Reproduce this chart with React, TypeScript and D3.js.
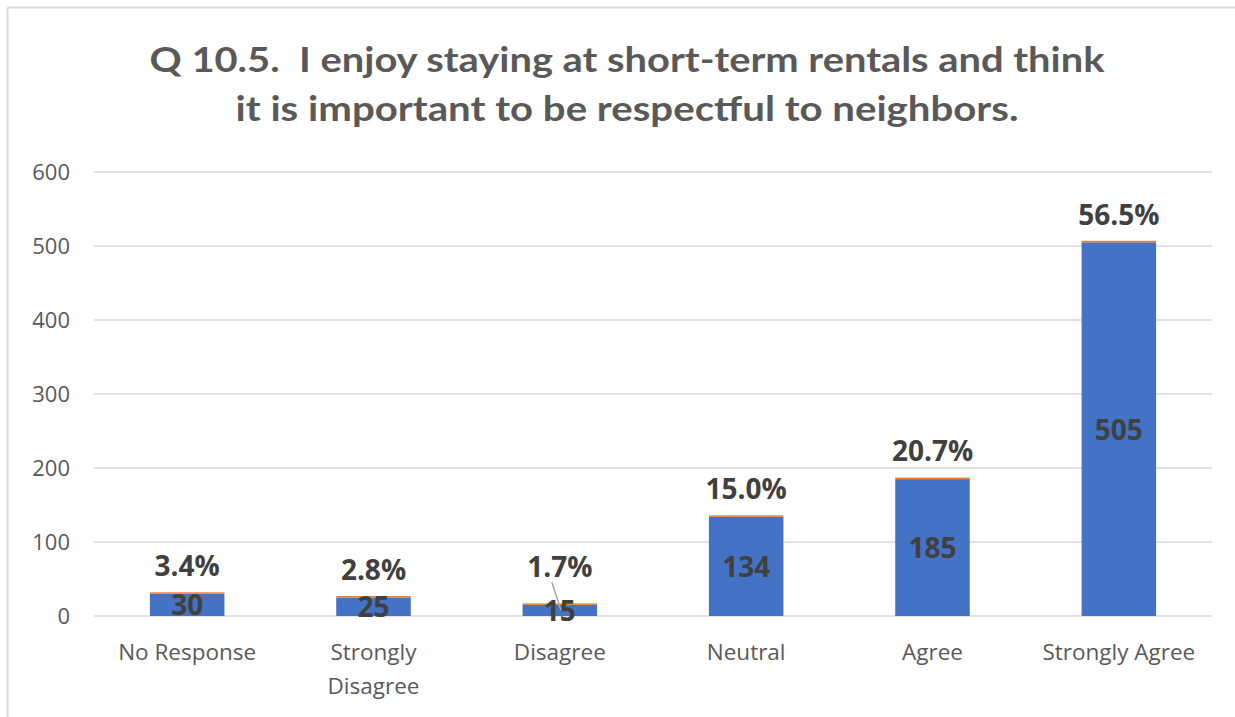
import React from "react";
import * as d3 from "d3";

const categories = ["No Response", "Strongly Disagree", "Disagree", "Neutral", "Agree", "Strongly Agree"];
const counts = [30, 25, 15, 134, 185, 505];
const percents = [3.4, 2.8, 1.7, 15.0, 20.7, 56.5];
const yTicks = [0, 100, 200, 300, 400, 500, 600];
const titleLines = [
  "Q 10.5.  I enjoy staying at short-term rentals and think",
  "it is important to be respectful to neighbors.",
];

const W = 1235;
const H = 717;
const TITLE_FONT = "Lato, 'Open Sans', 'Liberation Sans', sans-serif";
const FONT = "'Open Sans', 'Noto Sans', 'DejaVu Sans', sans-serif";

export default function App() {
  const x = d3.scaleBand<string>().domain(categories).range([94, 1212]).paddingInner(0.6).paddingOuter(0.3);
  const y = d3.scaleLinear().domain([0, 600]).range([616, 172]);

  const wrapLabel = (s: string) => {
    if (s === "Strongly Disagree") return ["Strongly", "Disagree"];
    return [s];
  };

  return (
    <svg width={W} height={H} style={{ position: "absolute", left: 0, top: 0, background: "#fff" }}>
      <rect x={0} y={0} width={W} height={H} fill="#fff" />
      {/* frame */}
      <line x1={7.5} y1={7.5} x2={W} y2={7.5} stroke="#d9d9d9" strokeWidth={2} />
      <line x1={7.5} y1={7.5} x2={7.5} y2={H} stroke="#d9d9d9" strokeWidth={2} />

      {/* title */}
      <text x={627} y={72} textAnchor="middle" fontFamily={TITLE_FONT} fontWeight={700} fontSize={35} fill="#595959"
        textLength={955} lengthAdjust="spacingAndGlyphs" style={{ whiteSpace: "pre" }}>{titleLines[0]}</text>
      <text x={627} y={121} textAnchor="middle" fontFamily={TITLE_FONT} fontWeight={700} fontSize={35} fill="#595959"
        textLength={783} lengthAdjust="spacingAndGlyphs" style={{ whiteSpace: "pre" }}>{titleLines[1]}</text>

      {/* gridlines and y ticks */}
      {yTicks.map((t) => (
        <g key={t}>
          <line x1={94} x2={1212} y1={y(t)} y2={y(t)} stroke="#d9d9d9" strokeWidth={1.5} />
          <text x={70} y={y(t)} dy="0.36em" textAnchor="end" fontFamily={FONT} fontSize={22} fill="#595959">{t}</text>
        </g>
      ))}

      {/* bars */}
      {categories.map((c, i) => {
        const bx = x(c)!;
        const bw = x.bandwidth();
        const top = y(counts[i]);
        const pctH = Math.max(y(0) - y(percents[i] / 100), 1.5);
        const mid = (top + y(0)) / 2;
        const moved = counts[i] < 20;
        const labelY = top - (moved ? 38 : 28);
        return (
          <g key={c}>
            <rect x={bx} y={top} width={bw} height={y(0) - top} fill="#4472C4" />
            <rect x={bx} y={top - pctH} width={bw} height={pctH} fill="#ED7D31" />
            <text x={bx + bw / 2} y={mid} dy="0.37em" textAnchor="middle" fontFamily={FONT} fontWeight={700}
              fontSize={28} fill="#404040">{counts[i]}</text>
            {moved && (
              <line x1={bx + bw / 2 - 8} y1={labelY + 15} x2={bx + bw / 2 + 1} y2={top + 5} stroke="#a6a6a6" strokeWidth={1.5} />
            )}
            <text x={bx + bw / 2} y={labelY} dy="0.37em" textAnchor="middle" fontFamily={FONT} fontWeight={700}
              fontSize={28} fill="#404040">{percents[i].toFixed(1)}%</text>
            {wrapLabel(c).map((l, j) => (
              <text key={j} x={bx + bw / 2} y={652 + j * 34} dy="0.36em" textAnchor="middle" fontFamily={FONT}
                fontSize={22.5} fill="#595959">{l}</text>
            ))}
          </g>
        );
      })}
    </svg>
  );
}
